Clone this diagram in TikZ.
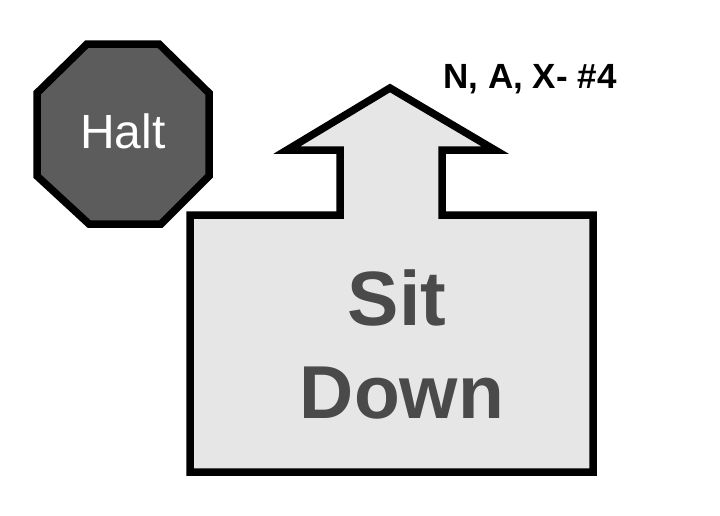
\documentclass[tikz,border=0pt]{standalone}
\usepackage{fontspec}
\setmainfont{Liberation Sans}
\definecolor{octfill}{HTML}{5C5C5C}
\definecolor{boxfill}{HTML}{E6E6E6}
\definecolor{bigtext}{HTML}{4A4A4A}
\begin{document}
\begin{tikzpicture}[x=1pt,y=-1pt,
  outline/.style={draw=black,line width=7.5pt,line join=miter},
  txt/.style={inner sep=0pt,anchor=base}]
\useasboundingbox (0,0) rectangle (720,515);
% octagon
\path[outline,fill=octfill] (87,44) -- (159,44) -- (209,93) -- (209,176) -- (161,224) -- (89,224) -- (37,176) -- (37,93) -- cycle;
\node[txt,text=white,font=\fontsize{48}{48}\selectfont] (halt) at (123,148) {Halt};
% arrow box
\path[outline,fill=boxfill] (190,215) -- (340,215) -- (340,150) -- (287,150) -- (390,88) -- (495,150) -- (442,150) -- (442,215) -- (593,215) -- (593,472) -- (190,472) -- cycle;
\node[txt,text=bigtext,font=\bfseries\fontsize{77}{77}\selectfont] (sit) at (397,325) {Sit};
\node[txt,text=bigtext,font=\bfseries\fontsize{75}{75}\selectfont] (down) at (402,418) {Down};
\node[txt,text=black,font=\bfseries\fontsize{35}{35}\selectfont] (lab) at (530,88) {N, A, X- \#4};
\end{tikzpicture}
\end{document}
